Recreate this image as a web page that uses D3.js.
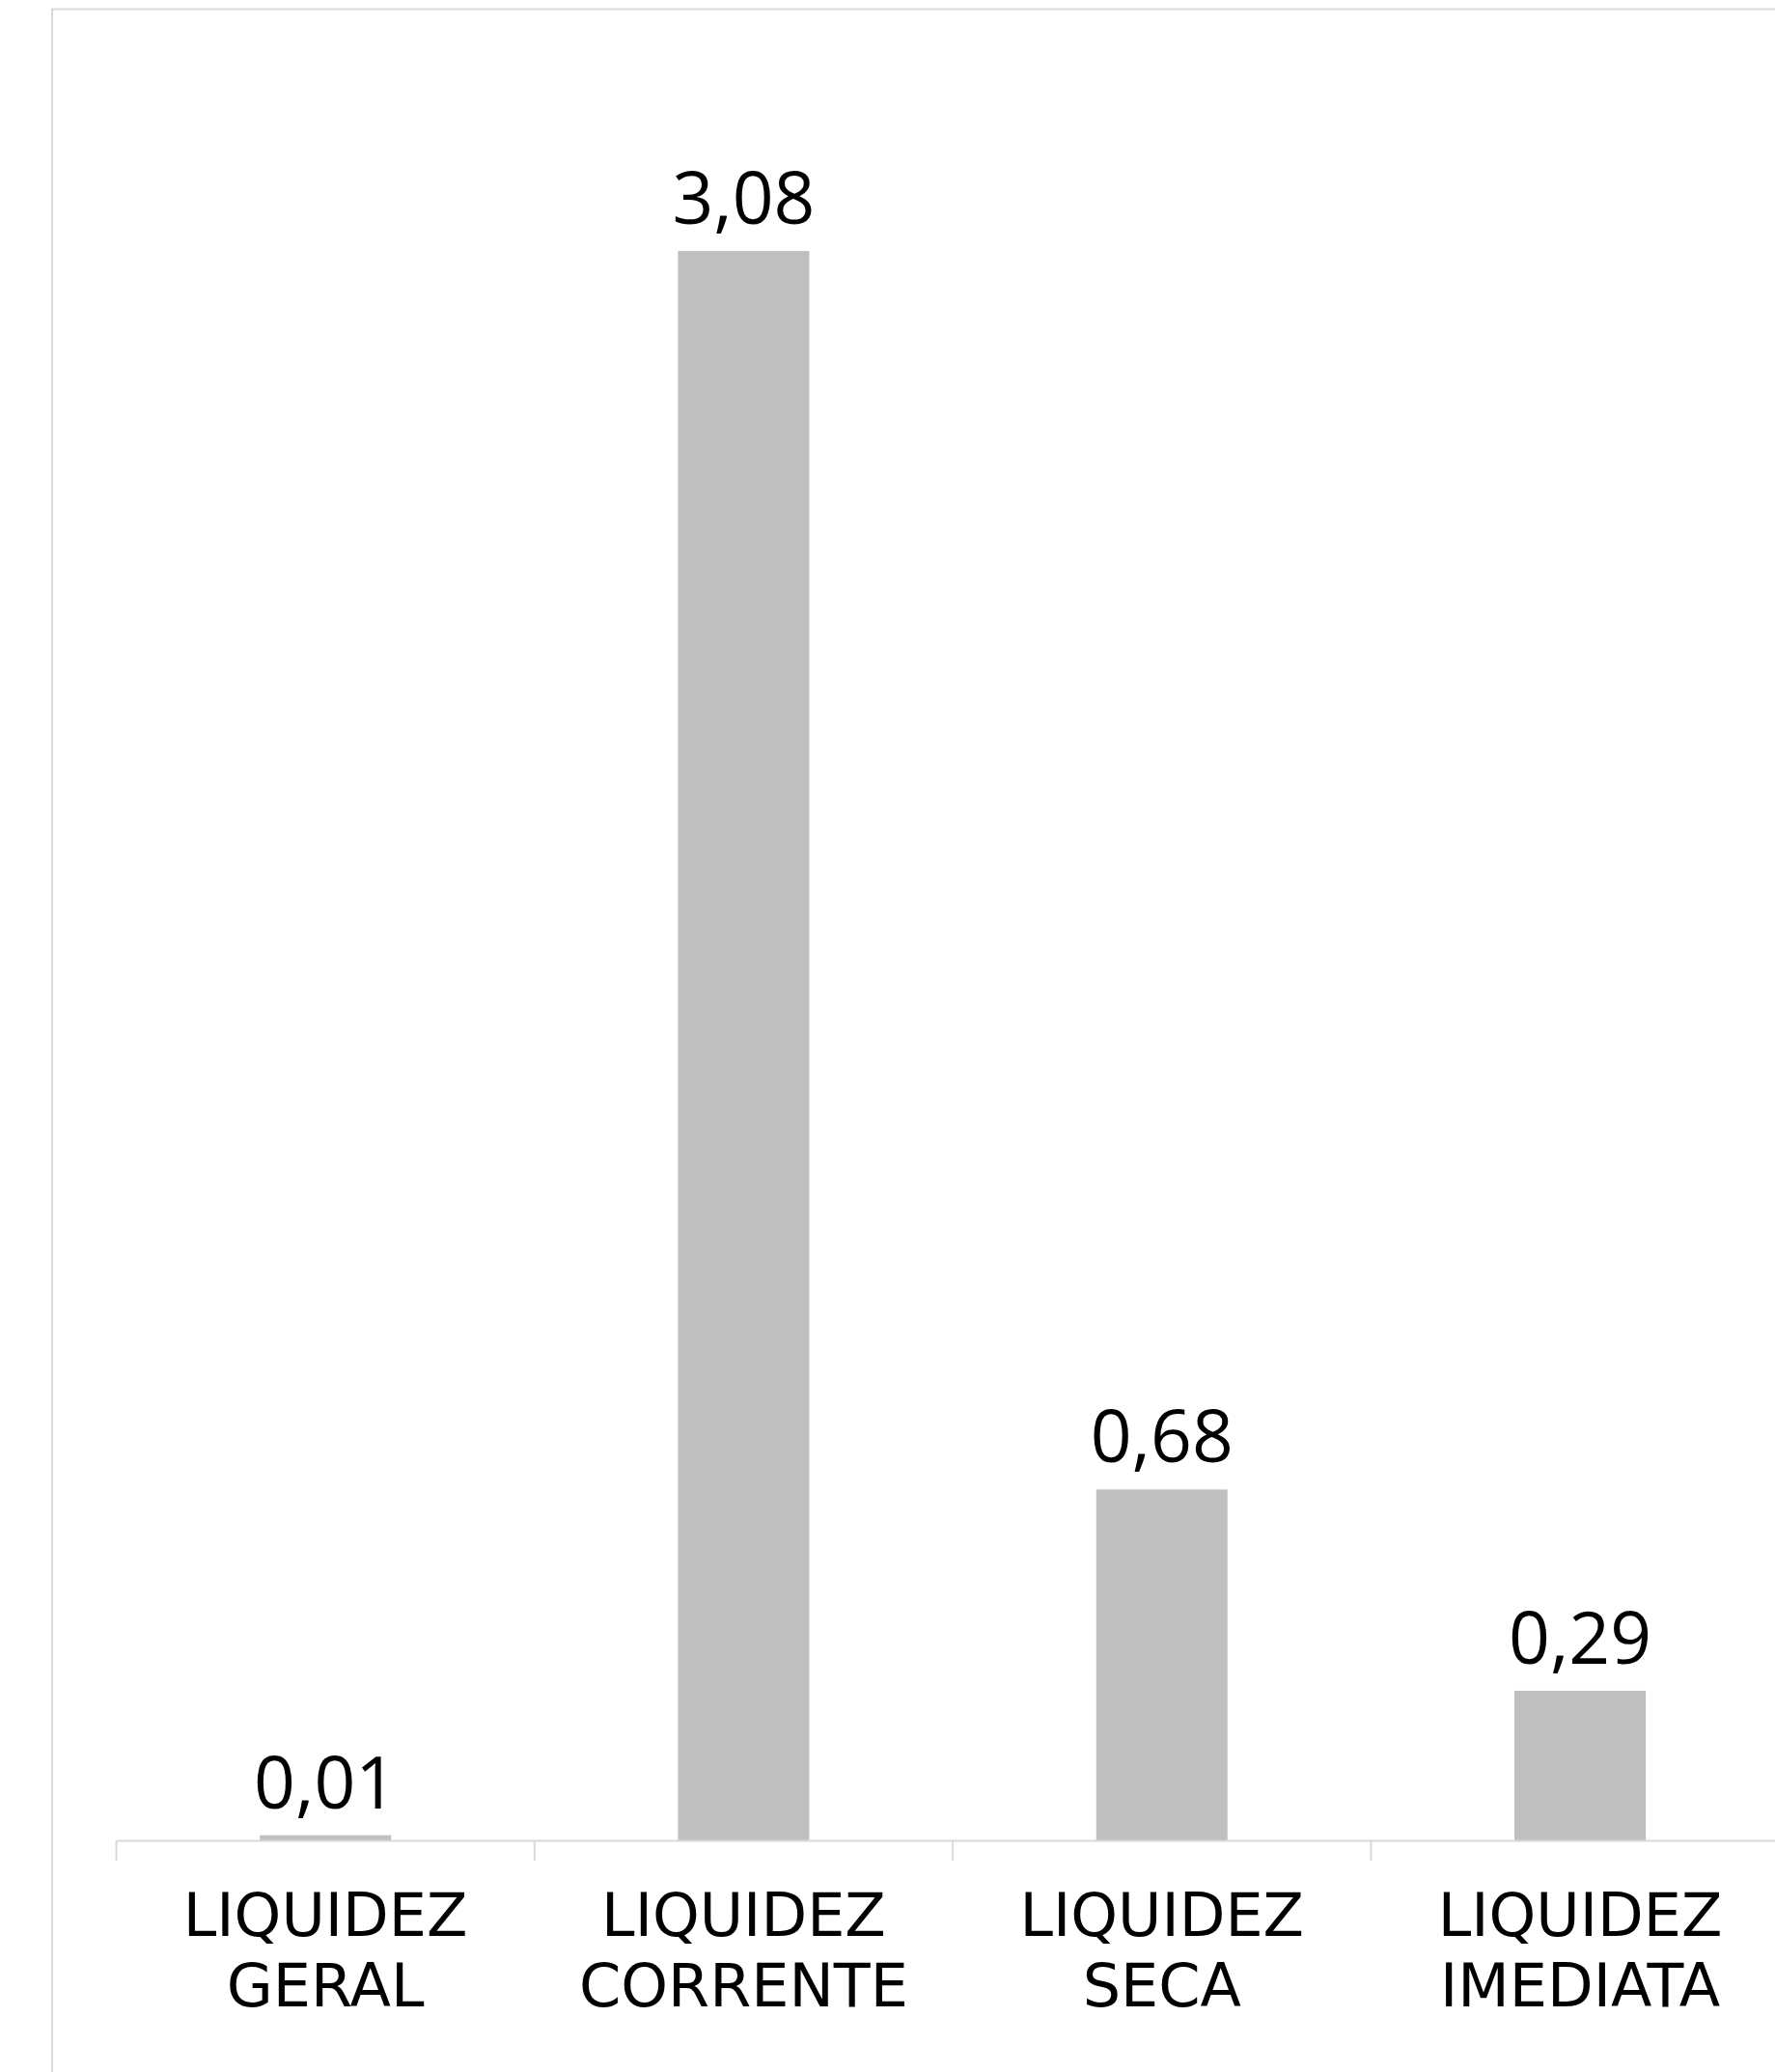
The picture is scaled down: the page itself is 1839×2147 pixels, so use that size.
<!DOCTYPE html>
<html>
<head>
<meta charset="utf-8">
<script src="https://cdn.jsdelivr.net/npm/d3@7"></script>
<style>
  body { margin: 0; background: #fff; }
  svg { display: block; }
</style>
</head>
<body>
<svg id="chart"></svg>
<script>
// dati
var categorie = ["LIQUIDEZ GERAL", "LIQUIDEZ CORRENTE", "LIQUIDEZ SECA", "LIQUIDEZ IMEDIATA"];
var valori = [0.01, 3.08, 0.68, 0.29];
var dominioY = [0, 3.5];

var w = 1839, h = 2147;
var fonteValori = "'Open Sans', 'DejaVu Sans', sans-serif";
var fonteCategorie = "'DejaVu Sans', 'Open Sans', sans-serif";

var svg = d3.select("#chart").attr("width", w).attr("height", h);

// bordo dell'area del grafico (tagliato a destra e in basso)
svg.append("rect")
  .attr("x", 54).attr("y", 9.5)
  .attr("width", 2000).attr("height", 2400)
  .attr("fill", "#fff")
  .attr("stroke", "#d9d9d9")
  .attr("stroke-width", 2);

var asseY = 1907;
var xScale = d3.scaleBand().domain(categorie).range([120.5, 1853.7]).paddingInner(0).paddingOuter(0);
var yScale = d3.scaleLinear().domain(dominioY).range([asseY, asseY - 3.5 * 534.7]);
var larghezzaBarra = xScale.bandwidth() * 0.314;

var fmt = d3.formatLocale({ decimal: ",", thousands: ".", grouping: [3], currency: ["R$", ""] }).format(".2f");

var dati = categorie.map(function(c, i) { return { cat: c, val: valori[i] }; });

// barre
svg.selectAll(".barra")
  .data(dati)
  .enter()
  .append("rect")
  .attr("class", "barra")
  .attr("x", function(d) { return xScale(d.cat) + xScale.bandwidth() / 2 - larghezzaBarra / 2; })
  .attr("y", function(d) { return yScale(d.val); })
  .attr("width", larghezzaBarra)
  .attr("height", function(d) { return yScale(0) - yScale(d.val); })
  .attr("fill", "#bfbfbf");

// asse x: linea senza etichette, tacche ai confini delle categorie
var asse = svg.append("g")
  .attr("transform", "translate(0," + asseY + ")")
  .call(d3.axisBottom(xScale).tickSize(0).tickFormat(""));
asse.select(".domain").attr("stroke", "#d9d9d9").attr("stroke-width", 2);

var confini = categorie.map(function(c) { return xScale(c); });
asse.selectAll(".tacca")
  .data(confini)
  .enter()
  .append("line")
  .attr("class", "tacca")
  .attr("x1", function(d) { return d; }).attr("x2", function(d) { return d; })
  .attr("y1", 0).attr("y2", 21)
  .attr("stroke", "#d9d9d9")
  .attr("stroke-width", 2);

// etichette dei valori
svg.selectAll(".etichetta")
  .data(dati)
  .enter()
  .append("text")
  .attr("class", "etichetta")
  .attr("x", function(d) { return xScale(d.cat) + xScale.bandwidth() / 2; })
  .attr("y", function(d) { return yScale(d.val) - 28; })
  .attr("text-anchor", "middle")
  .style("font-family", fonteValori)
  .style("font-size", "75px")
  .style("fill", "#000")
  .text(function(d) { return fmt(d.val); });

// etichette delle categorie su due righe
var cat = svg.selectAll(".categoria")
  .data(categorie)
  .enter()
  .append("text")
  .attr("class", "categoria")
  .attr("text-anchor", "middle")
  .style("font-family", fonteCategorie)
  .style("font-size", "62px")
  .style("fill", "#000");

cat.each(function(c) {
  var parole = c.split(" ");
  var cx = xScale(c) + xScale.bandwidth() / 2;
  d3.select(this).append("tspan").attr("x", cx).attr("y", 2006).text(parole[0]);
  d3.select(this).append("tspan").attr("x", cx).attr("y", 2079).text(parole[1]);
});
</script>
</body>
</html>
